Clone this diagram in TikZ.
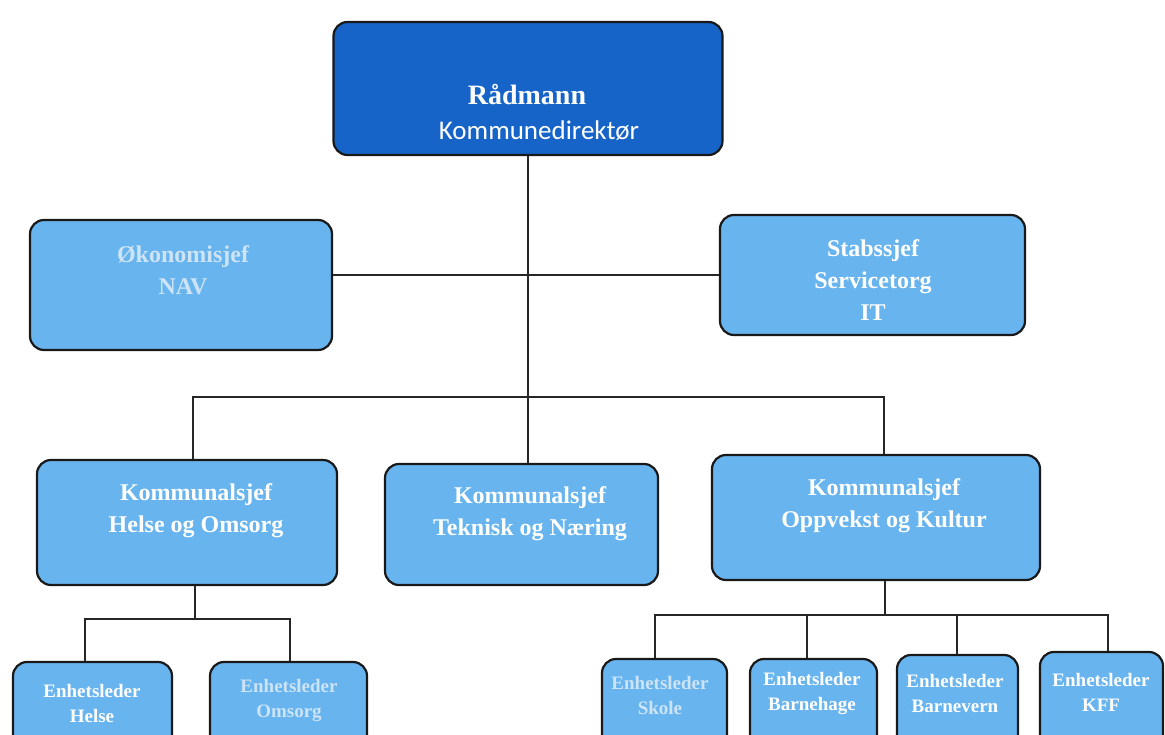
\documentclass[tikz,border=0pt]{standalone}
\usepackage{fontspec}
\setmainfont{Liberation Serif}
\newfontfamily\calib{Carlito}
\definecolor{boxblue}{RGB}{104,180,238}
\definecolor{headblue}{RGB}{22,100,200}
\definecolor{faded}{RGB}{205,228,246}

\begin{document}
\begin{tikzpicture}[x=1pt,y=-1pt,
  box/.style={draw=black!90,line width=2.2pt,rounded corners=14pt,fill=boxblue,inner sep=0pt},
  txt/.style={text=white,align=center,inner sep=0pt,font=\bfseries\fontsize{24}{32}\selectfont},
  small/.style={txt,font=\bfseries\fontsize{19}{25}\selectfont},
  link/.style={line width=2pt,draw=black!85}]
\useasboundingbox (0,0) rectangle (1165,735);
\clip (0,0) rectangle (1165,735);

% boxes
\node[box,fill=headblue,minimum width=389pt,minimum height=133pt] (rad) at (528,88.5) {};
\node[box,minimum width=302pt,minimum height=130pt] (okon) at (181,285) {};
\node[box,minimum width=305pt,minimum height=120pt] (stab) at (872.5,275) {};
\node[box,minimum width=300pt,minimum height=125pt] (hos) at (187,522.5) {};
\node[box,minimum width=273pt,minimum height=121pt] (tek) at (521.5,524.5) {};
\node[box,minimum width=328pt,minimum height=125pt] (opp) at (876,517.5) {};
\node[box,minimum width=159pt,minimum height=100pt] (ehel) at (92.5,712) {};
\node[box,minimum width=157pt,minimum height=100pt] (eoms) at (288.5,712) {};
\node[box,minimum width=125pt,minimum height=102pt] (esko) at (664.5,710) {};
\node[box,minimum width=127pt,minimum height=102pt] (ebhg) at (813.5,710) {};
\node[box,minimum width=121pt,minimum height=105pt] (ebv) at (957.5,707.5) {};
\node[box,minimum width=123pt,minimum height=108pt] (ekff) at (1101.5,706) {};

% texts
\node[txt,font=\bfseries\fontsize{28}{30}\selectfont] (radt) at (527,95) {Rådmann};
\node[txt,font=\calib\fontsize{27}{30}\selectfont] (radk) at (539,131) {Kommunedirektør};
\node[txt,text=faded] (okont) at (183,270) {Økonomisjef\\NAV};
\node[txt] (stabt) at (873,280) {Stabssjef\\Servicetorg\\IT};
\node[txt] (host) at (196,511) {Kommunalsjef\\Helse og Omsorg};
\node[txt] (tekt) at (530,514) {Kommunalsjef\\Teknisk og Næring};
\node[txt] (oppt) at (884,506) {Kommunalsjef\\Oppvekst og Kultur};
\node[small] (ehelt) at (92,703) {Enhetsleder\\Helse};
\node[small,text=faded] (eomst) at (289,701) {Enhetsleder\\Omsorg};
\node[small,text=faded] (eskot) at (660,695) {Enhetsleder\\Skole};
\node[small] (ebhgt) at (812,694) {Enhetsleder\\Barnehage};
\node[small] (ebvt) at (955,693) {Enhetsleder\\Barnevern};
\node[small] (ekfft) at (1101,692) {Enhetsleder\\KFF};

% lines
\draw[link] (rad.south) -- (rad.south |- tek.north);
\draw[link] (stab.west) -- (stab.west -| okon.east);
\coordinate (bar) at (528,397);
\draw[link] ([xshift=6pt]hos.north) |- (bar) -| ([xshift=8pt]opp.north);
\draw[link] ([xshift=8pt]hos.south) -- ++(0,33) coordinate (hbar);
\draw[link] ([xshift=-7.5pt]ehel.north) |- (hbar) -| ([xshift=1.5pt]eoms.north);
\draw[link] ([xshift=9pt]opp.south) -- ++(0,34) coordinate (obar);
\draw[link] ([xshift=-9.5pt]esko.north) |- (obar) -| ([xshift=6.5pt]ekff.north);
\draw[link] ([xshift=-6.5pt]ebhg.north) -- ([xshift=-6.5pt]ebhg.north |- obar);
\draw[link] ([xshift=-0.5pt]ebv.north) -- ([xshift=-0.5pt]ebv.north |- obar);

\end{tikzpicture}
\end{document}
